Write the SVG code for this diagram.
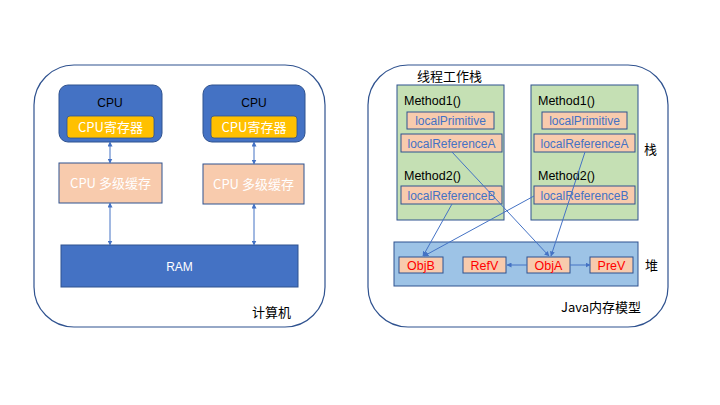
<svg xmlns="http://www.w3.org/2000/svg" width="720" height="405" viewBox="0 0 720 405">
<style>
text{font-family:"Liberation Sans","Noto Sans CJK SC",sans-serif;}
.cjk{font-family:"Noto Sans CJK SC","Liberation Sans",sans-serif;}
.panel{fill:#fff;stroke:#2F528F;stroke-width:1.2;}
.blue{fill:#4472C4;stroke:#2F528F;stroke-width:1;}
.reg{fill:#FFC000;stroke:#2F528F;stroke-width:0.8;}
.peach{fill:#F8CBAD;stroke:#2F528F;stroke-width:1;}
.green{fill:#C5E0B4;stroke:#2F528F;stroke-width:1;}
.heap{fill:#9DC3E6;stroke:#2F528F;stroke-width:1;}
.w{fill:#fff;}
.k{fill:#000;}
.bt{fill:#4472C4;}
.rt{fill:#FF0000;}
.ln{stroke:#4472C4;stroke-width:1;fill:none;}
</style>
<defs>
<marker id="ah" viewBox="0 0 10 10" refX="9" refY="5" markerWidth="5" markerHeight="5" orient="auto-start-reverse">
<path d="M0,0 L10,5 L0,10 z" fill="#4472C4"/>
</marker>
</defs>
<rect width="720" height="405" fill="#fff"/>

<g id="computer">
<rect class="panel" x="34" y="65" width="291" height="262" rx="40"/>
<text class="cjk k" x="252" y="317" font-size="13">计算机</text>
</g>
<g id="cpu1">
<rect class="blue" x="59" y="85" width="103" height="57" rx="9"/>
<text class="k" x="110" y="107" font-size="12" text-anchor="middle">CPU</text>
</g>
<g id="reg1">
<rect class="reg" x="67" y="116" width="87" height="22" rx="3"/>
<text class="cjk w" x="110.5" y="132" font-size="13" text-anchor="middle">CPU寄存器</text>
</g>
<g id="cpu2">
<rect class="blue" x="203" y="85" width="102" height="57" rx="9"/>
<text class="k" x="254" y="107" font-size="12" text-anchor="middle">CPU</text>
</g>
<g id="reg2">
<rect class="reg" x="211" y="116" width="86" height="22" rx="3"/>
<text class="cjk w" x="254" y="132" font-size="13" text-anchor="middle">CPU寄存器</text>
</g>
<g id="cache1">
<rect class="peach" x="59" y="163" width="103" height="40"/>
<text class="cjk w" x="110.5" y="188" font-size="13" text-anchor="middle">CPU 多级缓存</text>
</g>
<g id="cache2">
<rect class="peach" x="203" y="164" width="101" height="40"/>
<text class="cjk w" x="253.5" y="189" font-size="13" text-anchor="middle">CPU 多级缓存</text>
</g>
<g id="ram">
<rect class="blue" x="61" y="245" width="237" height="42"/>
<text class="w" x="179.5" y="271" font-size="12" text-anchor="middle">RAM</text>
</g>

<g id="jmm">
<rect class="panel" x="368" y="65" width="300" height="262" rx="40"/>
<text class="cjk k" x="417" y="81" font-size="13">线程工作栈</text>
<text class="cjk k" x="644" y="154" font-size="13">栈</text>
<text class="cjk k" x="645" y="270" font-size="13">堆</text>
<text class="cjk k" x="561" y="312" font-size="13">Java内存模型</text>
</g>
<g id="stack1">
<rect class="green" x="397" y="85" width="107" height="135"/>
<text class="k" x="404" y="105" font-size="12.5">Method1()</text>
<text class="k" x="404" y="180" font-size="12.5">Method2()</text>
</g>
<g id="s1-localPrimitive">
<rect class="peach" x="407" y="112" width="87" height="17"/>
<text class="bt" x="450.5" y="125" font-size="12" text-anchor="middle">localPrimitive</text>
</g>
<g id="s1-localReferenceA">
<rect class="peach" x="401" y="134" width="101" height="18"/>
<text class="bt" x="451.5" y="147.5" font-size="12" text-anchor="middle">localReferenceA</text>
</g>
<g id="s1-localReferenceB">
<rect class="peach" x="401" y="186" width="101" height="18"/>
<text class="bt" x="451.5" y="199.5" font-size="12" text-anchor="middle">localReferenceB</text>
</g>
<g id="stack2">
<rect class="green" x="531" y="85" width="107" height="135"/>
<text class="k" x="538" y="105" font-size="12.5">Method1()</text>
<text class="k" x="538" y="180" font-size="12.5">Method2()</text>
</g>
<g id="s2-localPrimitive">
<rect class="peach" x="542" y="112" width="85" height="17"/>
<text class="bt" x="584.5" y="125" font-size="12" text-anchor="middle">localPrimitive</text>
</g>
<g id="s2-localReferenceA">
<rect class="peach" x="534" y="134" width="101" height="18"/>
<text class="bt" x="584.5" y="147.5" font-size="12" text-anchor="middle">localReferenceA</text>
</g>
<g id="s2-localReferenceB">
<rect class="peach" x="534" y="186" width="101" height="18"/>
<text class="bt" x="584.5" y="199.5" font-size="12" text-anchor="middle">localReferenceB</text>
</g>
<g id="heap">
<rect class="heap" x="394" y="242" width="244" height="44"/>
</g>
<g id="ObjB">
<rect class="peach" x="399" y="257" width="44" height="16"/>
<text class="rt" x="421" y="270" font-size="12.5" text-anchor="middle">ObjB</text>
</g>
<g id="RefV">
<rect class="peach" x="463" y="257" width="43" height="16"/>
<text class="rt" x="484.5" y="270" font-size="12.5" text-anchor="middle">RefV</text>
</g>
<g id="ObjA">
<rect class="peach" x="527" y="257" width="43" height="16"/>
<text class="rt" x="548.5" y="270" font-size="12.5" text-anchor="middle">ObjA</text>
</g>
<g id="PreV">
<rect class="peach" x="590" y="257" width="43" height="16"/>
<text class="rt" x="611.5" y="270" font-size="12.5" text-anchor="middle">PreV</text>
</g>

<g id="connectors">
<line class="ln" x1="110" y1="142" x2="110" y2="163" marker-start="url(#ah)" marker-end="url(#ah)"/>
<line class="ln" x1="110" y1="203" x2="110" y2="245" marker-start="url(#ah)" marker-end="url(#ah)"/>
<line class="ln" x1="254" y1="142" x2="254" y2="164" marker-start="url(#ah)" marker-end="url(#ah)"/>
<line class="ln" x1="254" y1="204" x2="254" y2="245" marker-start="url(#ah)" marker-end="url(#ah)"/>
<line class="ln" x1="452" y1="152" x2="549" y2="256" marker-end="url(#ah)"/>
<line class="ln" x1="452" y1="204" x2="423" y2="256" marker-end="url(#ah)"/>
<line class="ln" x1="534" y1="196" x2="424" y2="256" marker-end="url(#ah)"/>
<line class="ln" x1="585" y1="152" x2="551" y2="256" marker-end="url(#ah)"/>
<line class="ln" x1="527" y1="265" x2="507" y2="265" marker-end="url(#ah)"/>
<line class="ln" x1="570" y1="265" x2="590" y2="265" marker-end="url(#ah)"/>
</g>
</svg>
